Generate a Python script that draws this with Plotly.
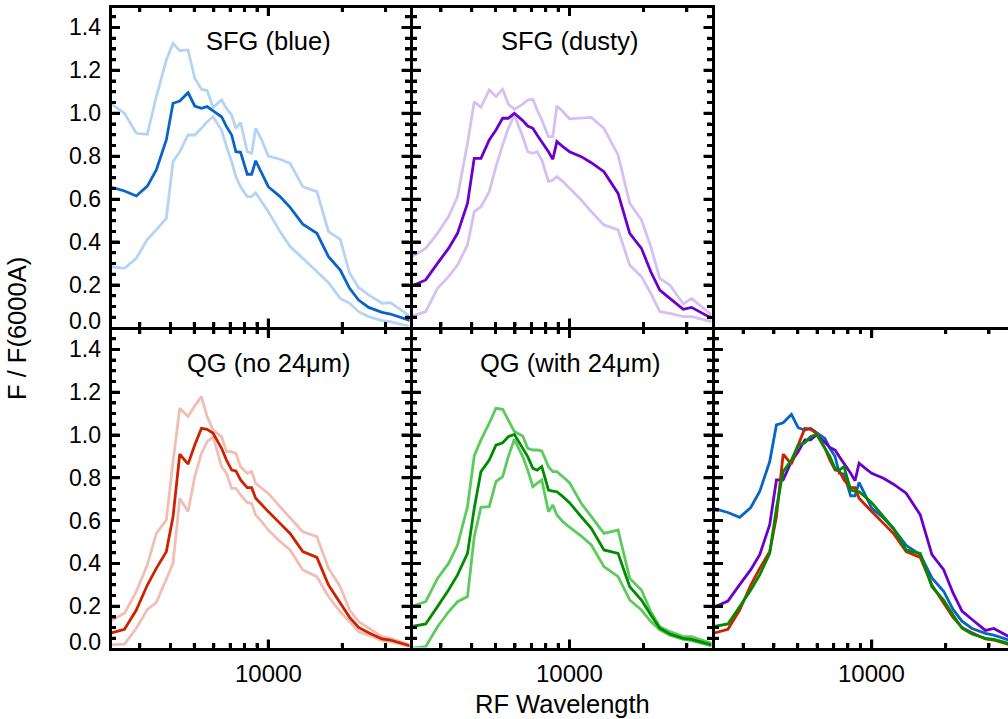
import numpy as np
import plotly.graph_objects as go

# Rest-frame wavelength grid (Angstrom)
wavelength = [2259, 2600, 2904, 3221, 3503, 3847, 4096, 4363, 4716, 5021, 5346, 5637,
              5964, 6453, 6761, 7095, 7383, 7713, 8211, 8555, 8884, 9396, 10000, 11163,
              12263, 13810, 15760, 17580, 19620, 21420, 23300, 25600, 29030, 31390, 37870]

sfg_blue = [0.658, 0.638, 0.615, 0.661, 0.736, 0.876, 1.047, 1.057, 1.096, 1.034, 1.023, 1.031,
            1.011, 0.984, 0.938, 0.899, 0.821, 0.818, 0.716, 0.716, 0.779, 0.720, 0.658, 0.612,
            0.562, 0.484, 0.441, 0.332, 0.270, 0.185, 0.130, 0.096, 0.073, 0.065, 0.034]
sfg_blue_hi = [1.050, 1.000, 0.907, 0.902, 1.078, 1.248, 1.326, 1.292, 1.295, 1.163, 1.112, 1.106,
               1.028, 1.062, 1.023, 0.992, 0.930, 0.957, 0.821, 0.814, 0.930, 0.876, 0.801, 0.786,
               0.767, 0.658, 0.635, 0.449, 0.413, 0.255, 0.189, 0.154, 0.115, 0.118, 0.053]
sfg_blue_lo = [0.286, 0.278, 0.325, 0.413, 0.457, 0.511, 0.775, 0.821, 0.899, 0.899, 0.930, 0.961,
               0.984, 0.922, 0.845, 0.775, 0.705, 0.658, 0.612, 0.612, 0.630, 0.589, 0.542, 0.449,
               0.379, 0.325, 0.262, 0.211, 0.138, 0.115, 0.076, 0.053, 0.034, 0.030, 0.006]

sfg_dusty = [0.193, 0.224, 0.301, 0.371, 0.441, 0.581, 0.790, 0.790, 0.876, 0.922, 0.977, 0.977,
             1.000, 0.966, 0.941, 0.930, 0.899, 0.868, 0.821, 0.786, 0.868, 0.845, 0.821, 0.798,
             0.770, 0.728, 0.627, 0.441, 0.371, 0.262, 0.177, 0.138, 0.087, 0.096, 0.045]
sfg_dusty_hi = [0.329, 0.371, 0.441, 0.519, 0.612, 0.860, 1.054, 1.028, 1.109, 1.078, 1.112, 1.043,
                1.019, 1.043, 1.062, 1.065, 1.016, 0.969, 0.891, 0.891, 1.034, 1.008, 0.974, 0.977,
                0.981, 0.930, 0.806, 0.581, 0.503, 0.379, 0.231, 0.200, 0.112, 0.138, 0.061]
sfg_dusty_lo = [0.053, 0.076, 0.185, 0.239, 0.293, 0.387, 0.542, 0.565, 0.635, 0.752, 0.853, 0.930,
                0.992, 0.891, 0.821, 0.814, 0.821, 0.783, 0.682, 0.689, 0.705, 0.682, 0.651, 0.596,
                0.542, 0.480, 0.457, 0.293, 0.239, 0.161, 0.076, 0.068, 0.053, 0.053, 0.030]

qg_no24 = [0.073, 0.092, 0.182, 0.299, 0.377, 0.455, 0.618, 0.910, 0.864, 0.953, 1.031, 1.026,
           1.008, 0.938, 0.883, 0.836, 0.832, 0.790, 0.754, 0.754, 0.704, 0.673, 0.642, 0.587,
           0.540, 0.455, 0.428, 0.299, 0.213, 0.148, 0.101, 0.076, 0.047, 0.042, 0.014]
qg_no24_hi = [0.128, 0.167, 0.268, 0.393, 0.540, 0.603, 0.875, 1.125, 1.086, 1.136, 1.179, 1.086,
              1.023, 0.992, 0.922, 0.922, 0.914, 0.852, 0.821, 0.829, 0.774, 0.751, 0.727, 0.665,
              0.611, 0.548, 0.525, 0.377, 0.291, 0.182, 0.128, 0.097, 0.058, 0.050, 0.019]
qg_no24_lo = [0.019, 0.023, 0.097, 0.185, 0.217, 0.322, 0.400, 0.704, 0.642, 0.805, 0.914, 0.969,
              0.992, 0.852, 0.821, 0.751, 0.751, 0.720, 0.684, 0.681, 0.626, 0.595, 0.556, 0.502,
              0.463, 0.369, 0.338, 0.245, 0.174, 0.128, 0.081, 0.065, 0.039, 0.034, 0.011]

qg_24 = [0.104, 0.117, 0.198, 0.276, 0.346, 0.447, 0.657, 0.829, 0.883, 0.953, 0.964, 0.992,
         1.003, 0.938, 0.899, 0.844, 0.836, 0.852, 0.743, 0.738, 0.735, 0.712, 0.684, 0.618,
         0.564, 0.463, 0.447, 0.291, 0.229, 0.159, 0.097, 0.070, 0.050, 0.045, 0.019]
qg_24_hi = [0.198, 0.221, 0.330, 0.400, 0.486, 0.665, 0.902, 0.977, 1.055, 1.125, 1.120, 1.070,
            1.016, 0.995, 0.938, 0.930, 0.930, 0.925, 0.852, 0.829, 0.829, 0.805, 0.777, 0.681,
            0.618, 0.540, 0.556, 0.330, 0.276, 0.174, 0.104, 0.081, 0.058, 0.058, 0.026]
qg_24_lo = [0.003, 0.011, 0.104, 0.174, 0.221, 0.245, 0.525, 0.662, 0.665, 0.782, 0.805, 0.899,
            0.980, 0.899, 0.836, 0.759, 0.774, 0.790, 0.642, 0.673, 0.626, 0.595, 0.569, 0.528,
            0.486, 0.385, 0.338, 0.229, 0.182, 0.128, 0.089, 0.065, 0.045, 0.039, 0.014]

panel_titles = ["SFG (blue)", "SFG (dusty)", "QG (no 24μm)", "QG (with 24μm)"]
x_major_ticks = [10000]
x_tick_label = ["10000"]
x_minor_ticks = [3000, 4000, 5000, 6000, 7000, 8000, 9000, 20000, 30000]
y_tick_vals = [0.0, 0.2, 0.4, 0.6, 0.8, 1.0, 1.2, 1.4]
y_minor_step = 0.05

BLUE, BLUE_L = "#0a64c8", "#b4d4f4"
PURP, PURP_L = "#6a00cc", "#d6c0f2"
RED, RED_L = "#cc2200", "#f2beb4"
GRN, GRN_L = "#008c00", "#5ccb5c"

W, H = 1008, 719
FONT = "Liberation Sans, Arial, Helvetica, sans-serif"

fig = go.Figure()


def add(vals, color, n, width=2.8):
    sfx = "" if n == 1 else str(n)
    fig.add_trace(go.Scatter(x=wavelength, y=vals, mode="lines",
                             line=dict(color=color, width=width),
                             xaxis="x" + sfx, yaxis="y" + sfx,
                             showlegend=False, hoverinfo="skip"))


add(sfg_blue_hi, BLUE_L, 1); add(sfg_blue_lo, BLUE_L, 1); add(sfg_blue, BLUE, 1)
add(sfg_dusty_hi, PURP_L, 2); add(sfg_dusty_lo, PURP_L, 2); add(sfg_dusty, PURP, 2)
add(qg_no24_hi, RED_L, 3); add(qg_no24_lo, RED_L, 3); add(qg_no24, RED, 3)
add(qg_24_hi, GRN_L, 4); add(qg_24_lo, GRN_L, 4); add(qg_24, GRN, 4)
add(sfg_blue, BLUE, 5); add(sfg_dusty, PURP, 5); add(qg_no24, RED, 5); add(qg_24, GRN, 5)

# frame line centres in pixels; (col, row)
col_edges = [(110, 411), (411, 713), (713, 1014)]
col_10k = [268.3, 569.5, 871.7]       # pixel of 10000 A in each column
row_edges = [(6, 328), (328, 649)]
row_zero = [328, 649]                 # pixel of y=0 in each row
PX_DEC = 245.8                        # pixels per decade
PX_UNIT = [214.7, 214.0]              # pixels per unit of y
LW = 3
half = LW / 2
MAJ, MIN = 8, 4.5                     # tick lengths (px from the axis edge)

panels = {1: (0, 0), 2: (1, 0), 3: (0, 1), 4: (1, 1), 5: (2, 1)}

annotations = []
for n, (c, r) in panels.items():
    sfx = "" if n == 1 else str(n)
    a, b = col_edges[c][0] + half, min(col_edges[c][1] - half, W)
    t, btm = row_edges[r][0] + half, row_edges[r][1] - half
    xr = [4 + (a - col_10k[c]) / PX_DEC, 4 + (b - col_10k[c]) / PX_DEC]
    yr = [(row_zero[r] - btm) / PX_UNIT[r], (row_zero[r] - t) / PX_UNIT[r]]
    fig.layout["xaxis" + sfx] = dict(
        type="log", domain=[a / W, b / W], range=xr, anchor="y" + sfx,
        showline=True, linewidth=LW, linecolor="black", mirror="ticks",
        ticks="inside", ticklen=MAJ, tickwidth=2.5, tickcolor="black",
        tickmode="array", tickvals=x_major_ticks, ticktext=x_tick_label,
        showticklabels=False, showgrid=False, zeroline=False,
        minor=dict(ticks="inside", ticklen=MIN, tickwidth=2.5, tickcolor="black",
                   tickmode="array", tickvals=x_minor_ticks, showgrid=False),
    )
    fig.layout["yaxis" + sfx] = dict(
        domain=[1 - btm / H, 1 - t / H], range=yr, anchor="x" + sfx,
        showline=True, linewidth=LW, linecolor="black",
        mirror=("ticks" if n != 5 else False),
        ticks="inside", ticklen=MAJ, tickwidth=2.5, tickcolor="black",
        tickmode="array", tickvals=y_tick_vals,
        showticklabels=False, showgrid=False, zeroline=False,
        minor=dict(ticks="inside", ticklen=MIN, tickwidth=2.5, tickcolor="black",
                   dtick=y_minor_step, tick0=0, showgrid=False),
    )

    # tick marks also drawn as a trace on the panel's own axes
    tx, ty = [], []
    for v, L in [(v, MAJ) for v in x_major_ticks] + [(v, MIN) for v in x_minor_ticks]:
        lv = np.log10(v)
        if xr[0] < lv < xr[1]:
            dy = L / PX_UNIT[r]
            tx += [v, v, None, v, v, None]
            ty += [yr[0], yr[0] + dy, None, yr[1] - dy, yr[1], None]
    nminor = int(round(1.5 / y_minor_step))
    for k in range(nminor + 1):
        v = k * y_minor_step
        major = any(abs(v - m) < 1e-9 for m in y_tick_vals)
        L = MAJ if major else MIN
        if yr[0] < v < yr[1]:
            tx += [10 ** xr[0], 10 ** (xr[0] + L / PX_DEC), None]
            ty += [v, v, None]
            if n != 5:
                tx += [10 ** (xr[1] - L / PX_DEC), 10 ** xr[1], None]
                ty += [v, v, None]
    fig.add_trace(go.Scatter(x=tx, y=ty, mode="lines", line=dict(color="black", width=3),
                             xaxis="x" + sfx, yaxis="y" + sfx, showlegend=False,
                             hoverinfo="skip", connectgaps=False))

    if c == 0:
        for v in y_tick_vals:
            ypx = row_zero[r] - v * PX_UNIT[r] - (7 if v == 0 else 0)
            annotations.append(dict(text="%.1f" % v, x=103 / W, y=1 - ypx / H,
                                    xref="paper", yref="paper",
                                    xanchor="right", yanchor="middle", showarrow=False,
                                    font=dict(family=FONT, size=23, color="black")))
    if r == 1:
        for v, lab in zip(x_major_ticks, x_tick_label):
            annotations.append(dict(text=lab, x=np.log10(v), y=1 - 673 / H,
                                    xref="x" + sfx, yref="paper",
                                    xanchor="center", yanchor="middle", showarrow=False,
                                    font=dict(family=FONT, size=24, color="black")))

for i, t in enumerate(panel_titles):
    n = i + 1
    sfx = "" if n == 1 else str(n)
    annotations.append(dict(text=t, x=4, y=1.337, xref="x" + sfx, yref="y" + sfx,
                            showarrow=False, xanchor="center", yanchor="middle",
                            font=dict(family=FONT, size=25.5, color="black")))
annotations.append(dict(text="F / F(6000A)", x=17 / W, y=1 - 329 / H, xref="paper", yref="paper",
                        textangle=-90, showarrow=False, xanchor="center", yanchor="middle",
                        font=dict(family=FONT, size=25.5, color="black")))
annotations.append(dict(text="RF Wavelength", x=562 / W, y=1 - 704 / H, xref="paper", yref="paper",
                        showarrow=False, xanchor="center", yanchor="middle",
                        font=dict(family=FONT, size=25.5, color="black")))

fig.update_layout(width=W, height=H, margin=dict(l=0, r=0, t=0, b=0),
                  paper_bgcolor="white", plot_bgcolor="white",
                  annotations=annotations, showlegend=False)

fig.write_html("out.html", config={"displayModeBar": False},
               post_script="document.body.style.margin='0px';document.body.style.overflow='hidden';")
